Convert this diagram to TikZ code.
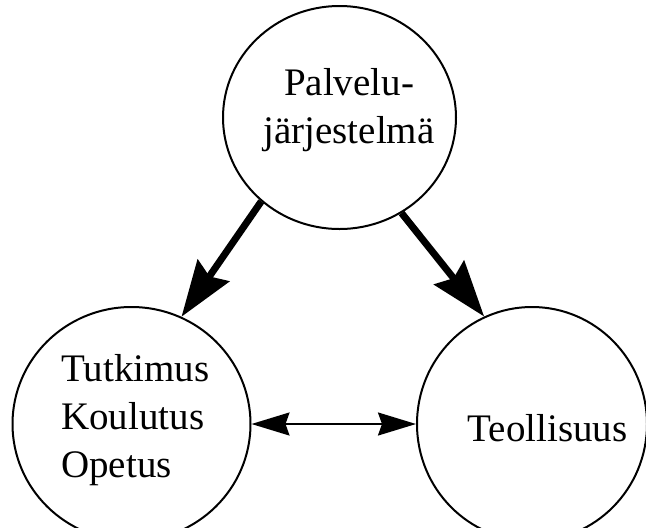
\documentclass[tikz,border=0pt]{standalone}
\usepackage{fontspec}
\setmainfont{Liberation Serif}
\usetikzlibrary{shapes.geometric, arrows.meta, calc}
\tikzset{
  bubble/.style={ellipse, draw, line width=2},
  flow/.style={-{Stealth[length=56, width=38, inset=7]}, line width=7},
  biflow/.style={{Stealth[length=38, width=23, inset=4]}-{Stealth[length=38, width=23, inset=4]}, line width=2},
  word/.style={font=\fontsize{39}{48}\selectfont},
  every node/.style={inner sep=0}
}
\begin{document}
\begin{tikzpicture}[x=1pt, y=-1pt]
    \useasboundingbox (0,0) rectangle (646,528);
    \node[bubble, minimum width=233, minimum height=223] (palvelu) at (339.5,117.5) {};
    \node[bubble, minimum width=238, minimum height=234] (tutkimus) at (131.5,424) {};
    \node[bubble, minimum width=230, minimum height=234] (teollisuus) at (532,424) {};
    \node[word, align=center] (palvelutext) at (349,110) {Palvelu-\\järjestelmä};
    \node[word, align=left, anchor=west] (tutkimustext) at (61,420) {Tutkimus\\Koulutus\\Opetus};
    \node[word, anchor=base] (teollisuustext) at (547.5,441) {Teollisuus};
    \draw[flow] (palvelu.227.6) -- (tutkimus.65.5);
    \draw[flow] (palvelu.303.5) -- (teollisuus.114.3);
    \draw[biflow] (tutkimus.east) -- (teollisuus.west);
\end{tikzpicture}
\end{document}
